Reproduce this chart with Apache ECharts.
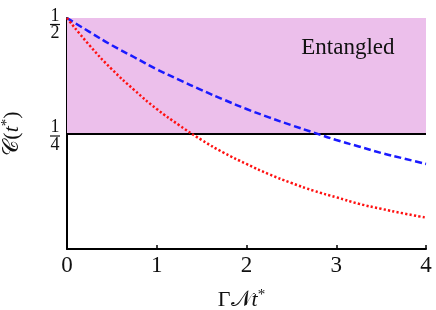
<!DOCTYPE html>
<html><head><meta charset="utf-8">
<script src="https://cdn.jsdelivr.net/npm/echarts@6/dist/echarts.min.js"></script>
<style>html,body{margin:0;padding:0;background:#fff}#c{width:436px;height:310px}</style>
</head><body><div id="c"></div>
<script>
var tValues = [0,0.25,0.5,0.75,1,1.25,1.5,1.75,2,2.25,2.5,2.75,3,3.25,3.5,3.75,4];
var blueValues = [0.5,0.470,0.441,0.415,0.389,0.366,0.344,0.323,0.303,0.285,0.268,0.252,0.236,0.222,0.208,0.196,0.184];
var redValues = [0.5,0.441,0.389,0.344,0.303,0.268,0.236,0.208,0.184,0.162,0.143,0.126,0.112,0.098,0.087,0.077,0.068];
var xTicks = [0,1,2,3,4];
var yFractions = {'0.25':['1','4'], '0.5':['1','2']};
var threshold = 0.25, yMax = 0.5, xMax = 4;
var regionLabel = 'Entangled';
var labelPos = [3.13, 0.435];

var F = 'Liberation Serif';
var C = '#111';
function pairs(vals){ return tValues.map(function(t,i){return [t, vals[i]];}); }
var nameRich = {
  a:{fontFamily:F,fontSize:22,color:C},
  i:{fontFamily:F,fontSize:22,fontStyle:'italic',color:C},
  s:{fontFamily:F,fontSize:15,color:C,padding:[0,0,10,0]}
};
var chart = echarts.init(document.getElementById('c'));
chart.setOption({
  animation:false,
  grid:{left:67,right:10,top:18,bottom:61,containLabel:false,outerBoundsMode:'none'},
  xAxis:{type:'value',min:0,max:xMax,interval:1,
    name:'{a|Γ𝒩}{i|t}{s|*}',nameLocation:'middle',nameGap:39,
    nameTextStyle:{rich:nameRich,padding:[0,10,0,0]},
    axisLine:{lineStyle:{color:'#000',width:2}},
    axisTick:{show:true,inside:true,length:4,lineStyle:{color:'#000',width:1.5}},
    axisLabel:{fontFamily:F,fontSize:23,color:C,margin:5,
      formatter:function(v){return xTicks.indexOf(v)>=0? String(v):'';}},
    splitLine:{show:false}},
  yAxis:{type:'value',min:0,max:yMax,interval:0.25,
    name:'{a|𝒞(}{i|t}{s|*}{a|)}',nameLocation:'middle',nameGap:42,nameRotate:90,
    nameTextStyle:{rich:nameRich},
    axisLine:{show:true,lineStyle:{color:'#000',width:2}},
    axisTick:{show:false},
    axisLabel:{margin:7,padding:[6,0,0,0],
      formatter:function(v){var f=yFractions[String(v)]; if(!f) return '';
        var pre = (v===yMax) ? '{sp| }\n' : '';
        return pre+'{n|'+f[0]+'}\n{b| }\n{d|'+f[1]+'}';},
      rich:{n:{fontFamily:F,fontSize:18,color:C,lineHeight:14,align:'center'},
            sp:{fontSize:1,lineHeight:8,align:'center'},
            b:{fontSize:1,lineHeight:3,height:1.2,width:10,backgroundColor:C,align:'center'},
            d:{fontFamily:F,fontSize:18,color:C,lineHeight:15,align:'center'}}},
    splitLine:{show:false}},
  series:[
    {type:'line',data:[],silent:true,
      markArea:{silent:true,itemStyle:{color:'#ecbfeb'},data:[[{coord:[0,threshold]},{coord:[xMax,yMax]}]]},
      markLine:{silent:true,symbol:'none',label:{show:false},lineStyle:{color:'#000',width:2,type:'solid'},data:[{yAxis:threshold}]},
      markPoint:{silent:true,symbol:'circle',symbolSize:0,data:[{coord:labelPos}],
        label:{show:true,position:'inside',formatter:regionLabel,fontFamily:F,fontSize:23,color:C}}},
    {type:'line',data:pairs(blueValues),smooth:true,showSymbol:false,z:5,
      lineStyle:{color:'#1a1aff',width:2.5,type:[7,3.5]}},
    {type:'line',data:pairs(redValues),smooth:true,showSymbol:false,z:5,
      lineStyle:{color:'#ff1010',width:2.5,type:[2.2,2.2]}}
  ]
});
</script></body></html>
